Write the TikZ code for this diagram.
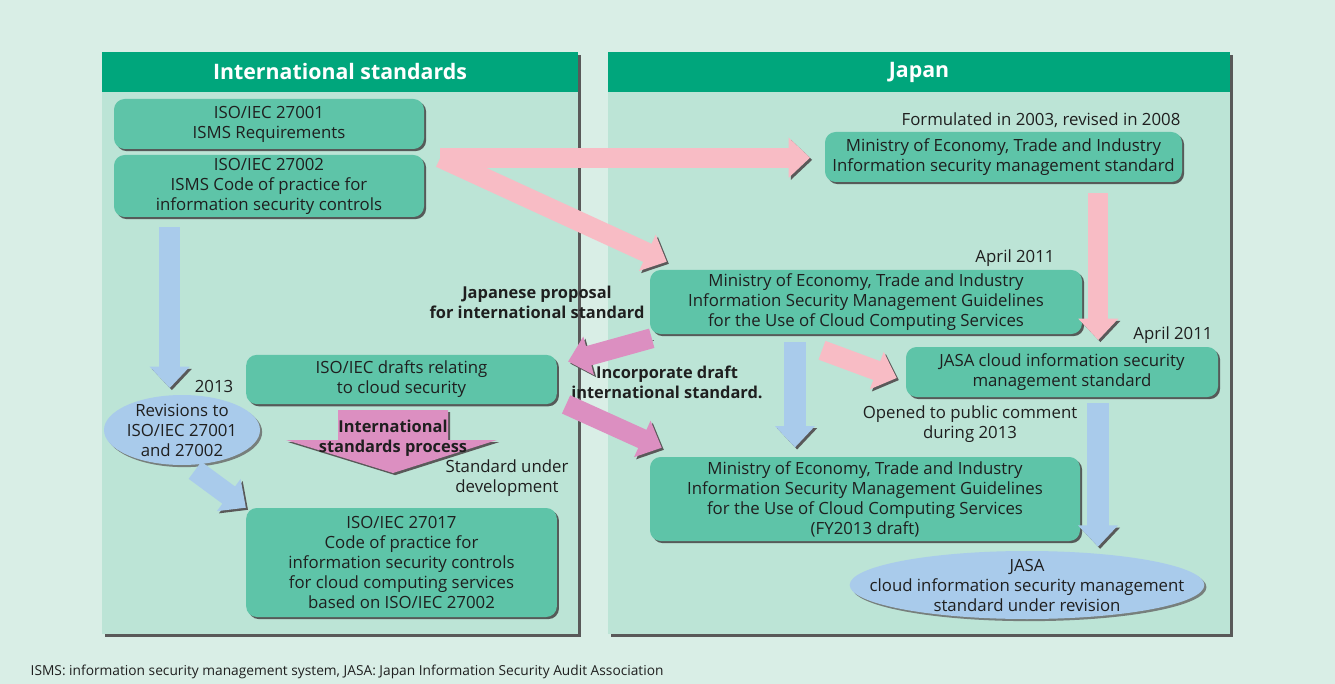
\documentclass[tikz,border=0pt]{standalone}
\usepackage{fontspec}
\setmainfont{Open Sans}
\usetikzlibrary{arrows.meta,calc,shadows,shapes.geometric}

\definecolor{pagebg}{HTML}{D9EEE6}
\definecolor{panelbg}{HTML}{BCE4D6}
\definecolor{headgreen}{HTML}{00A67C}
\definecolor{boxgreen}{HTML}{5EC4A8}
\definecolor{pinkarr}{HTML}{F8BCC5}
\definecolor{violetarr}{HTML}{DC8FC1}
\definecolor{bluearr}{HTML}{A9CBEB}
\definecolor{txtgray}{HTML}{1F1F1F}

\tikzset{
  bodyfont/.style={font=\fontsize{12.6}{15}\selectfont},
  box/.style={fill=boxgreen, rounded corners=8pt, align=center, text=txtgray,
    bodyfont, inner sep=0pt,
    drop shadow={shadow xshift=1.6pt, shadow yshift=-1.6pt, fill=black!70, opacity=.9}},
  oval/.style={ellipse, fill=bluearr, inner sep=0pt,
    drop shadow={shadow xshift=1.6pt, shadow yshift=-1.6pt, fill=black!60, opacity=.8}},
  note/.style={align=center, text=txtgray, bodyfont},
  boldnote/.style={align=center, text=txtgray, font=\fontsize{12.3}{15}\selectfont\bfseries},
  header/.style={text=white, font=\fontsize{16}{20}\selectfont\bfseries},
  bigarrow/.style={line width=15pt, -{Triangle[length=16pt,width=29pt]},
    preaction={draw=black!65, transform canvas={xshift=1.6pt,yshift=-1.6pt}}},
  pinkarrow/.style={bigarrow, draw=pinkarr},
  violetarrow/.style={bigarrow, draw=violetarr},
  bluearrow/.style={bigarrow, line width=16pt, draw=bluearr},
}

\begin{document}
\begin{tikzpicture}[x=0.75pt, y=-0.75pt]
  \useasboundingbox (0,0) rectangle (1335,684);
  \fill[pagebg] (0,0) rectangle (1335,684);

  % panels
  \fill[black!65] (105,55) rectangle (581,637);
  \fill[panelbg] (102,52) rectangle (578,634);
  \fill[headgreen] (102,52) rectangle (578,92);
  \fill[black!65] (611,55) rectangle (1233,637);
  \fill[panelbg] (608,52) rectangle (1230,634);
  \fill[headgreen] (608,52) rectangle (1230,92);
  \node[header] (hintl) at (340,72) {International standards};
  \node[header] (hjapan) at (919,72) {Japan};

  % boxes
  \node[box, minimum width=232.5pt, minimum height=37.5pt] (b27001) at (269,124)
    {ISO/IEC 27001\\ISMS Requirements};
  \node[box, minimum width=232.5pt, minimum height=46.5pt] (b27002) at (269,186)
    {ISO/IEC 27002\\ISMS Code of practice for\\information security controls};
  \node[box, minimum width=267.75pt, minimum height=37.5pt] (metistd) at (1003.5,157)
    {Ministry of Economy, Trade and Industry\\Information security management standard};
  \node[box, minimum width=324pt, minimum height=48pt] (metiguide) at (866,302)
    {Ministry of Economy, Trade and Industry\\Information Security Management Guidelines\\for the Use of Cloud Computing Services};
  \node[box, minimum width=234pt, minimum height=37.5pt] (jasastd) at (1062,372)
    {JASA cloud information security\\management standard};
  \node[box, minimum width=233pt, minimum height=37pt] (clouddraft) at (401.5,379.5)
    {ISO/IEC drafts relating\\to cloud security};
  \node[box, minimum width=233pt, minimum height=81.75pt] (iso27017) at (401.5,562.5)
    {ISO/IEC 27017\\Code of practice for\\information security controls\\for cloud computing services\\based on ISO/IEC 27002};
  \node[box, minimum width=322.5pt, minimum height=63pt] (metidraft) at (865,499)
    {Ministry of Economy, Trade and Industry\\Information Security Management Guidelines\\for the Use of Cloud Computing Services\\(FY2013 draft)};
  \node[oval, minimum width=117pt, minimum height=52.5pt,
    label={[note]center:{Revisions to\\ISO/IEC 27001\\and 27002}}] (revisions) at (182,430) {};
  \node[oval, minimum width=266pt, minimum height=51pt,
    label={[note]center:{JASA\\cloud information security management\\standard under revision}}] (jasarev) at (1027,585) {};

  % notes
  \node[note] (formulated) at (1041,120) {Formulated in 2003, revised in 2008};
  \node[note] (april1) at (1015,258) {April 2011};
  \node[note] (april2) at (1173,335) {April 2011};
  \node[note] (y2013) at (214,386) {2013};
  \node[note] (underdev) at (507,478) {Standard under\\development};
  \node[note] (opened) at (970,424) {Opened to public comment\\during 2013};
  \node[boldnote] (proposal) at (537,302) {Japanese proposal\\for international standard};
  \node[boldnote] (incorporate) at (667,382) {Incorporate draft\\international standard.};

  % arrows
  \coordinate (pstart) at ($(b27002.north east)+(16,3)$);
  \draw[pinkarrow, shorten >=11pt] (pstart) -- (pstart -| metistd.west);
  \draw[pinkarrow] (pstart) -- ($(metiguide.north west)+(17,-8)$);
  \coordinate (pdown) at ($(metistd.south east)+(-84,11)$);
  \draw[pinkarrow, shorten >=5pt] (pdown) -- (pdown |- jasastd.north);
  \draw[pinkarrow] ($(metiguide.south)+(-44,16)$) -- ($(jasastd.west)+(-9,6)$);

  \draw[violetarrow] ($(metiguide.south west)+(2,4)$) -- ($(clouddraft.east)+(11,-18)$);
  \draw[violetarrow] ($(clouddraft.south east)+(9,0)$) -- ($(metidraft.north west)+(12,-9)$);
  \fill[violetarr, preaction={fill=black!65, transform canvas={xshift=1.6pt,yshift=-1.6pt}}]
    (338,410) -- (448,410) -- (448,440) -- (497,440) -- (393,473) -- (286,440) -- (338,440) -- cycle;
  \node[boldnote] (process) at (393,438) {International\\standards process};

  \coordinate (bleft) at ($(b27002.south west)+(56,10)$);
  \draw[bluearrow, shorten >=5pt] (bleft) -- (bleft |- revisions.north);
  \draw[bluearrow] ($(revisions.south)+(13,5)$) -- (iso27017.north west);
  \coordinate (bmid) at ($(metiguide.south)+(-71,8)$);
  \draw[bluearrow, shorten >=7pt] (bmid) -- (bmid |- metidraft.north);
  \coordinate (bright) at ($(jasastd.south)+(36,6)$);
  \draw[bluearrow, shorten >=3pt] (bright) -- (bright |- jasarev.north);

  \node[anchor=west, text=txtgray, font=\fontsize{10.3}{12}\selectfont] (foot) at (26,672)
    {ISMS: information security management system, JASA: Japan Information Security Audit Association};
\end{tikzpicture}
\end{document}
